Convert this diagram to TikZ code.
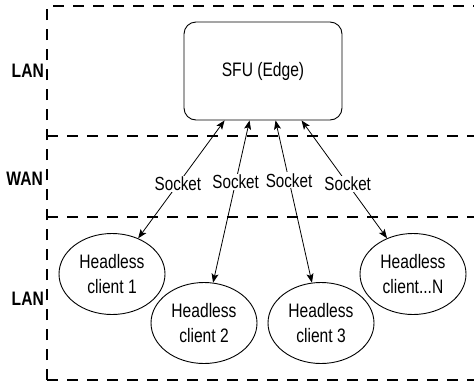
\documentclass[tikz,border=0pt]{standalone}
\usepackage{fontspec}
\setmainfont{Liberation Sans}[FakeStretch=0.8]
\usetikzlibrary{arrows.meta,shapes.geometric,calc}

\begin{document}
\begin{tikzpicture}[x=1pt,y=-1pt,
  zone/.style={line width=1.5pt, dash pattern=on 11pt off 9pt},
  zonelabel/.style={font=\fontsize{19.5}{23}\selectfont\bfseries, anchor=east, inner sep=0pt},
  server/.style={draw, line width=0.9pt, rounded corners=12pt, minimum width=158pt,
    minimum height=98pt, inner sep=0pt, font=\fontsize{19.5}{23}\selectfont},
  client/.style={draw, ellipse, line width=0.9pt, minimum width=106pt, minimum height=81pt,
    inner sep=0pt, align=center, font=\fontsize{19.5}{24.5}\selectfont},
  sock/.style={line width=0.8pt,
    {Stealth[length=9pt,width=7pt,inset=2pt]}-{Stealth[length=9pt,width=7pt,inset=2pt]}},
  socklabel/.style={fill=white, inner sep=1pt, font=\fontsize{19}{23}\selectfont}
]
\useasboundingbox (0,0) rectangle (474,386);

% network zones
\draw[zone] (47,380) -- (47,6) -- (474,6);
\draw[zone] (47,136) -- (474,136);
\draw[zone] (47,217) -- (474,217);
\draw[zone] (47,380) -- (474,380);

\node[zonelabel] (lanTop) at (44,71) {LAN};
\node[zonelabel] (wan) at (43,178.5) {WAN};
\node[zonelabel] (lanBottom) at (44,299) {LAN};

% edge server
\node[server] (sfu) at (263,71) {SFU (Edge)};

% headless clients
\node[client] (c1) at (112,274) {Headless\\client 1};
\node[client] (c2) at (204,323) {Headless\\client 2};
\node[client] (c3) at (321,323) {Headless\\client 3};
\node[client] (cN) at (413,274) {Headless\\client...N};

% socket attachment points on the server
\coordinate (p1) at ([xshift=41pt]sfu.south west);
\coordinate (p2) at ([xshift=66pt]sfu.south west);
\coordinate (p3) at ([xshift=92pt]sfu.south west);
\coordinate (p4) at ([xshift=118pt]sfu.south west);

% socket connections
\draw[sock] (p1) -- node[socklabel, pos=0.54] (s1) {Socket} (c1);
\draw[sock] (p2) -- node[socklabel, pos=0.38] (s2) {Socket} (c2);
\draw[sock] (p3) -- node[socklabel, pos=0.37] (s3) {Socket} (c3);
\draw[sock] (p4) -- node[socklabel, pos=0.54] (s4) {Socket} (cN);
\end{tikzpicture}
\end{document}
